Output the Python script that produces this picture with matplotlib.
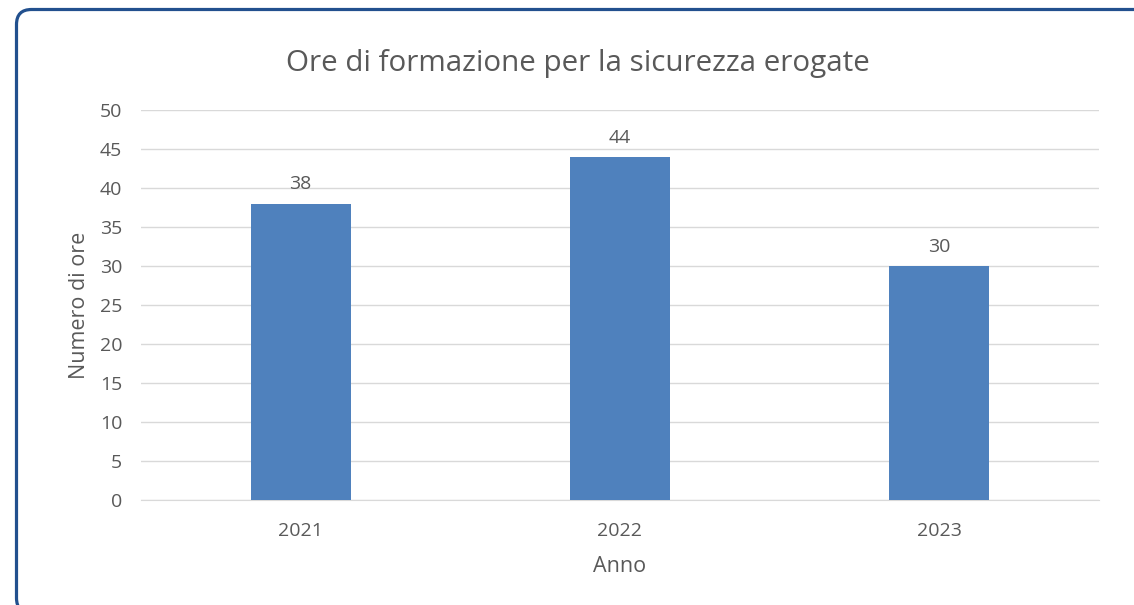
import matplotlib
matplotlib.use("Agg")
import matplotlib.pyplot as plt
from matplotlib.patches import FancyBboxPatch
from matplotlib.transforms import IdentityTransform

years = ["2021", "2022", "2023"]
hours = [38, 44, 30]
yticks = [0, 5, 10, 15, 20, 25, 30, 35, 40, 45, 50]

plt.rcParams['font.family'] = ['Open Sans', 'DejaVu Sans']
txt = '#595959'

fig = plt.figure(figsize=(11.34, 6.05), dpi=100)
# rounded border (in pixel coordinates, origin bottom-left)
border = FancyBboxPatch((16.5, -8), 1200, 605 - 9.5 + 8,
                        boxstyle="round,pad=0,rounding_size=15",
                        transform=IdentityTransform(), fill=False,
                        edgecolor='#22508E', linewidth=2.3)
fig.add_artist(border)

ax = fig.add_axes([141/1134, 1-500/605, (1099-141)/1134, 390/605])
x = list(range(len(years)))
ax.bar(x, hours, width=0.313, color='#4F81BD', zorder=3)
for xi, h in zip(x, hours):
    ax.text(xi, h + 1.3, str(h), ha='center', va='bottom', fontsize=14, color=txt)

ax.set_xlim(-0.5, 2.5)
ax.set_ylim(0, 50)
ax.set_yticks(yticks)
ax.set_xticks(x)
ax.set_xticklabels(years)
ax.grid(axis='y', color='#D9D9D9', linewidth=1, zorder=0)
for s in ['top', 'right', 'left']:
    ax.spines[s].set_visible(False)
ax.spines['bottom'].set_color('#D9D9D9')
ax.tick_params(axis='both', length=0, labelsize=14, labelcolor=txt)
ax.tick_params(axis='y', pad=13.5)
ax.tick_params(axis='x', pad=16)
ax.set_ylabel("Numero di ore", fontsize=15.5, color=txt, labelpad=7)
ax.set_xlabel("Anno", fontsize=15.5, color=txt, labelpad=11.5)
fig.text(578/1134, 1-63/605, "Ore di formazione per la sicurezza erogate",
         ha='center', va='center', fontsize=21.3, color=txt)

fig.savefig("out.png", dpi=100)
